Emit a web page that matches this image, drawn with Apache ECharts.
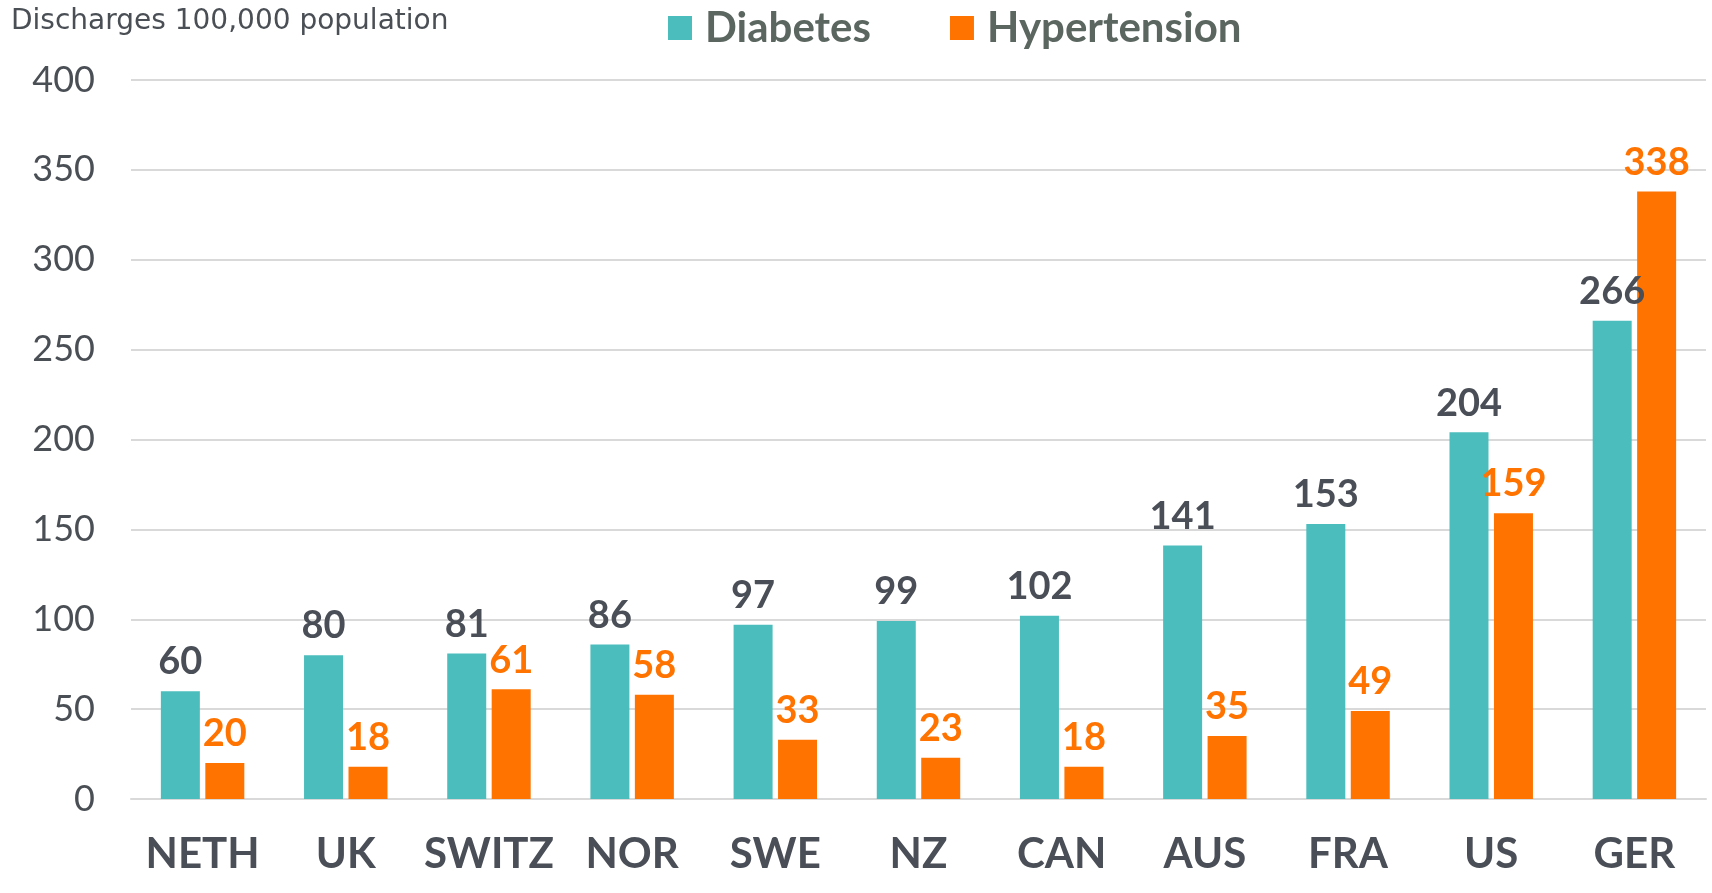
<!DOCTYPE html>
<html>
<head>
<meta charset="utf-8">
<script src="https://cdn.jsdelivr.net/npm/echarts@6/dist/echarts.min.js"></script>
<style>
  html, body { margin: 0; padding: 0; background: #fff; }
  #main { width: 1712px; height: 893px; }
</style>
</head>
<body>
<div id="main"></div>
<script>
// 数据
var countries = ['NETH', 'UK', 'SWITZ', 'NOR', 'SWE', 'NZ', 'CAN', 'AUS', 'FRA', 'US', 'GER'];
var diabetes = [60, 80, 81, 86, 97, 99, 102, 141, 153, 204, 266];
var hypertension = [20, 18, 61, 58, 33, 23, 18, 35, 49, 159, 338];

var chart = echarts.init(document.getElementById('main'));
var option = {
    animation: false,
    title: {
        text: 'Discharges 100,000 population',
        left: 6,
        top: 3,
        textStyle: {
            fontFamily: 'DejaVu Sans',
            fontWeight: 'normal',
            fontSize: 28,
            color: '#4a4f55'
        }
    },
    legend: {
        top: 2,
        left: 663,
        itemWidth: 24,
        itemHeight: 24,
        itemGap: 79,
        icon: 'rect',
        textStyle: {
            fontFamily: 'Lato',
            fontWeight: 'bold',
            fontSize: 42,
            color: '#5b6660',
            padding: [0, 0, 0, 8]
        },
        data: ['Diabetes', 'Hypertension']
    },
    grid: {
        left: 131,
        right: 6,
        top: 80,
        bottom: 94
    },
    xAxis: {
        type: 'category',
        data: countries,
        axisLine: { lineStyle: { color: '#d9d9d9', width: 2 } },
        axisTick: { show: false },
        axisLabel: {
            interval: 0,
            margin: 34,
            fontFamily: 'Lato',
            fontWeight: 'bold',
            fontSize: 42,
            color: '#4a4f57'
        }
    },
    yAxis: {
        type: 'value',
        min: 0,
        max: 400,
        interval: 50,
        axisLine: { show: false },
        axisTick: { show: false },
        splitLine: { lineStyle: { color: '#d9d9d9', width: 2 } },
        axisLabel: {
            margin: 36,
            fontFamily: 'Lato',
            fontSize: 36,
            color: '#4a4f55'
        }
    },
    series: [
        {
            name: 'Diabetes',
            type: 'bar',
            data: diabetes,
            barWidth: 39,
            barGap: '14%',
            itemStyle: { color: '#4bbdbd' },
            label: {
                show: true,
                position: 'top',
                distance: 10,
                fontFamily: 'Lato',
                fontWeight: 'bold',
                fontSize: 38,
                color: '#4a4f57'
            }
        },
        {
            name: 'Hypertension',
            type: 'bar',
            data: hypertension,
            barWidth: 39,
            itemStyle: { color: '#ff7300' },
            label: {
                show: true,
                position: 'top',
                distance: 10,
                fontFamily: 'Lato',
                fontWeight: 'bold',
                fontSize: 38,
                color: '#ff7300'
            }
        }
    ]
};
chart.setOption(option);
</script>
</body>
</html>
